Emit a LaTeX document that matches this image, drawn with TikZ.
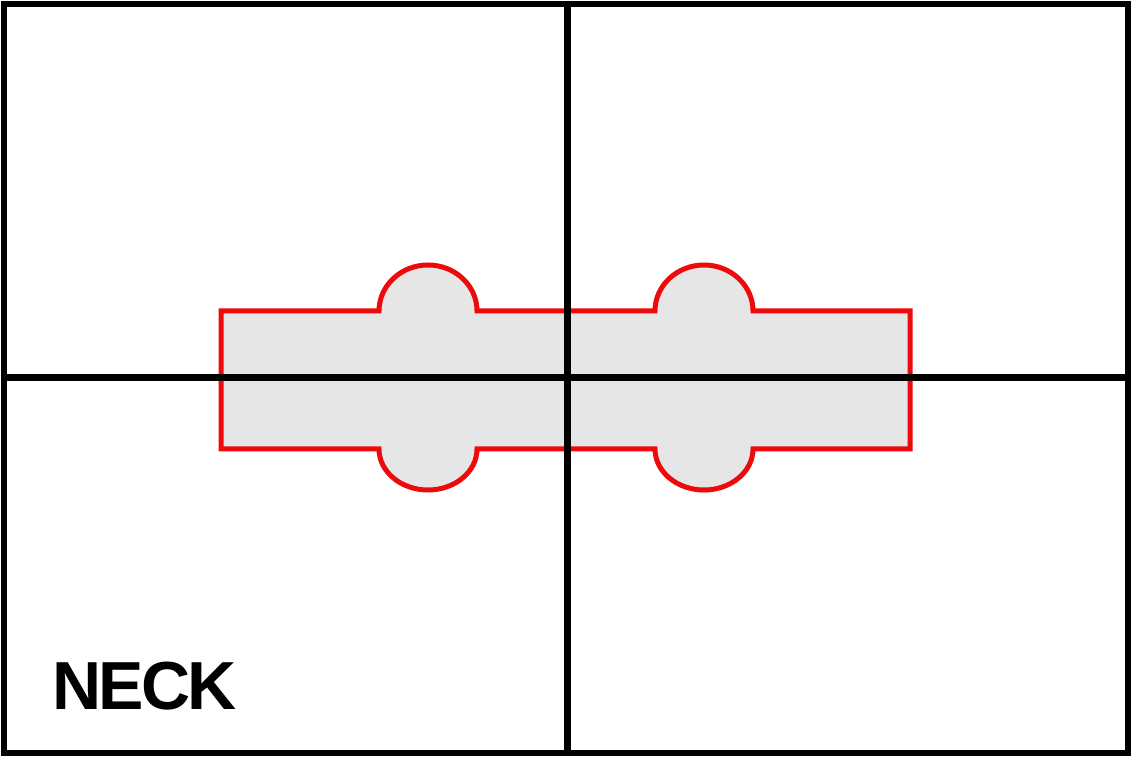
\documentclass[tikz,border=0pt]{standalone}
\usepackage{fontspec}
\newfontfamily\neckfont{Liberation Sans}[LetterSpace=-4]
\definecolor{pickred}{HTML}{EE0A0A}
\definecolor{pickfill}{HTML}{E6E6E6}
\begin{document}
\begin{tikzpicture}[x=1pt,y=1pt,
  gridline/.style={line width=7pt,black},
  frameline/.style={line width=5.5pt,black},
  pickup/.style={line width=5pt,draw=pickred,fill=pickfill,line join=miter}]
\useasboundingbox (0,0) rectangle (1133,757);
\fill[white] (0,0) rectangle (1133,757);
% pickup body
\draw[pickup] (221,446) -- (379,446)
  arc[start angle=180,end angle=0,x radius=49,y radius=46] -- (655,446)
  arc[start angle=180,end angle=0,x radius=49,y radius=46] -- (910,446)
  -- (910,308) -- (753,308)
  arc[start angle=0,end angle=-180,x radius=49,y radius=41] -- (477,308)
  arc[start angle=0,end angle=-180,x radius=49,y radius=41] -- (221,308) -- cycle;
% grid
\coordinate (L) at (4,379);
\coordinate (R) at (1128,379);
\coordinate (T) at (567,753);
\coordinate (B) at (567,4);
\draw[gridline] (L) -- (R);
\draw[gridline] (T) -- (B);
\draw[frameline] (4,4) rectangle (1128,753);
\node[anchor=base west,inner sep=0pt,font=\neckfont\bfseries\fontsize{68}{68}\selectfont] (neck) at (52,47) {NECK};
\end{tikzpicture}
\end{document}
